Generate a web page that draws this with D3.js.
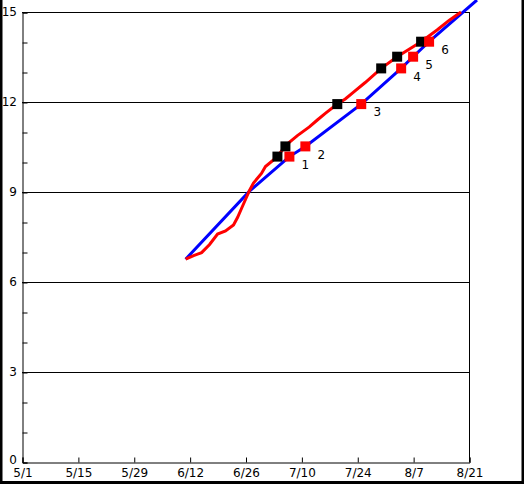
<!DOCTYPE html>
<html>
<head>
<meta charset="utf-8">
<script src="https://cdn.jsdelivr.net/npm/d3@7"></script>
<style>
  body { margin: 0; background: #fff; }
  svg { display: block; }
  text { font-family: "DejaVu Sans", sans-serif; font-size: 12px; fill: #000; }
</style>
</head>
<body>
<svg id="chart" width="524" height="484"></svg>
<script>
// x tick labels and y ticks
const xTicks = ["5/1", "5/15", "5/29", "6/12", "6/26", "7/10", "7/24", "8/7", "8/21"];
const yTicks = [0, 3, 6, 9, 12, 15];

// red line (actual)
const actualDates = ["6/11", "6/13", "6/15", "6/17", "6/19", "6/21", "6/23", "6/24", "6/25", "6/26",
  "6/27", "6/28", "6/30", "7/1", "7/4", "7/6", "7/9", "7/12", "7/14", "7/16",
  "7/19", "7/21", "7/23", "7/26", "7/30", "8/3", "8/9", "8/13", "8/16", "8/19"];
const actualValues = [6.76, 6.88, 6.98, 7.25, 7.6, 7.7, 7.9, 8.15, 8.45, 8.75,
  9.05, 9.3, 9.62, 9.85, 10.18, 10.55, 10.88, 11.17, 11.4, 11.62,
  11.93, 12.1, 12.32, 12.65, 13.12, 13.51, 14.01, 14.4, 14.72, 15.0];

// blue line (plan)
const planDates = ["6/11", "6/27", "7/7", "7/11", "7/25", "8/4", "8/7", "8/11", "8/23"];
const planValues = [6.76, 9.03, 10.18, 10.52, 11.93, 13.12, 13.51, 14.01, 15.4];

// milestones
const milestoneLabels = ["1", "2", "3", "4", "5", "6"];
const milestoneValues = [10.18, 10.52, 11.93, 13.12, 13.51, 14.01];
const milestoneActual = ["7/4", "7/6", "7/19", "7/30", "8/3", "8/9"];
const milestonePlan = ["7/7", "7/11", "7/25", "8/4", "8/7", "8/11"];

const parse = s => d3.timeParse("%m/%d/%Y")(s + "/2023");

let svg = d3.select("#chart");

let canvas = {"width": 524, "height": 484,
  "marginLeft": 22, "marginTop": 12, "marginRight": 55, "marginBottom": 22};

let xScale = d3.scaleTime()
  .domain([parse("5/1"), parse("8/21")])
  .range([canvas.marginLeft, canvas.width - canvas.marginRight]);

let yScale = d3.scaleLinear()
  .domain([0, 15])
  .range([canvas.height - canvas.marginBottom, canvas.marginTop]);

// outer frame (left, right, bottom only)
svg.append("path")
  .attr("d", `M1,0 V${canvas.height - 1.5} H${canvas.width - 1} V0`)
  .attr("fill", "none").attr("stroke", "#000").attr("stroke-width", 3);

// grid lines
svg.selectAll(".grid")
  .data(yTicks.filter(d => d > 0))
  .join("line")
  .attr("class", "grid")
  .attr("x1", canvas.marginLeft)
  .attr("x2", canvas.width - canvas.marginRight)
  .attr("y1", d => Math.round(yScale(d)) + 0.5)
  .attr("y2", d => Math.round(yScale(d)) + 0.5)
  .attr("stroke", "#000");

// right border of plot
svg.append("line")
  .attr("x1", Math.round(xScale(parse("8/21"))) + 0.5)
  .attr("x2", Math.round(xScale(parse("8/21"))) + 0.5)
  .attr("y1", yScale(15)).attr("y2", yScale(0))
  .attr("stroke", "#000");

// y axis with inside minor ticks
let yAxis = d3.axisRight(yScale).tickValues(d3.range(0, 16)).tickSize(5).tickFormat("");
svg.append("g")
  .attr("transform", `translate(${canvas.marginLeft + 0.5}, 0.5)`)
  .call(yAxis)
  .call(g => g.select(".domain").attr("stroke", "#000"));

svg.selectAll(".ylabel")
  .data(yTicks)
  .join("text")
  .attr("class", "ylabel")
  .attr("x", 17)
  .attr("y", d => d === 0 ? yScale(d) - 2 : yScale(d))
  .attr("dy", "0.35em")
  .attr("text-anchor", "end")
  .text(d => d);

// x axis with inside ticks
let xAxis = d3.axisTop(xScale).tickValues(xTicks.map(parse)).tickSize(5).tickFormat("");
svg.append("g")
  .attr("transform", `translate(0.5, ${canvas.height - canvas.marginBottom + 0.5})`)
  .call(xAxis)
  .call(g => g.select(".domain").attr("stroke", "#000"));

svg.selectAll(".xlabel")
  .data(xTicks)
  .join("text")
  .attr("class", "xlabel")
  .attr("x", d => xScale(parse(d)) + 1)
  .attr("y", canvas.height - 7)
  .attr("text-anchor", "middle")
  .text(d => d);

let line = d3.line()
  .x(d => xScale(d[0]))
  .y(d => yScale(d[1]));

svg.append("path")
  .datum(planDates.map((d, i) => [parse(d), planValues[i]]))
  .attr("d", line)
  .attr("fill", "none")
  .attr("stroke", "#0000ff")
  .attr("stroke-width", 3);

svg.append("path")
  .datum(actualDates.map((d, i) => [parse(d), actualValues[i]]))
  .attr("d", line)
  .attr("fill", "none")
  .attr("stroke", "#ff0000")
  .attr("stroke-width", 3);

let size = 10;

svg.selectAll(".actualpt")
  .data(milestoneActual)
  .join("rect")
  .attr("class", "actualpt")
  .attr("x", (d, i) => xScale(parse(d)) - size / 2)
  .attr("y", (d, i) => yScale(milestoneValues[i]) - size / 2)
  .attr("width", size).attr("height", size)
  .attr("fill", "#000");

svg.selectAll(".planpt")
  .data(milestonePlan)
  .join("rect")
  .attr("class", "planpt")
  .attr("x", (d, i) => xScale(parse(d)) - size / 2)
  .attr("y", (d, i) => yScale(milestoneValues[i]) - size / 2)
  .attr("width", size).attr("height", size)
  .attr("fill", "#ff0000");

svg.selectAll(".mlabel")
  .data(milestoneLabels)
  .join("text")
  .attr("class", "mlabel")
  .attr("x", (d, i) => xScale(parse(milestonePlan[i])) + 16)
  .attr("y", (d, i) => yScale(milestoneValues[i]) + 8)
  .attr("dy", "0.35em")
  .attr("text-anchor", "middle")
  .text(d => d);
</script>
</body>
</html>
